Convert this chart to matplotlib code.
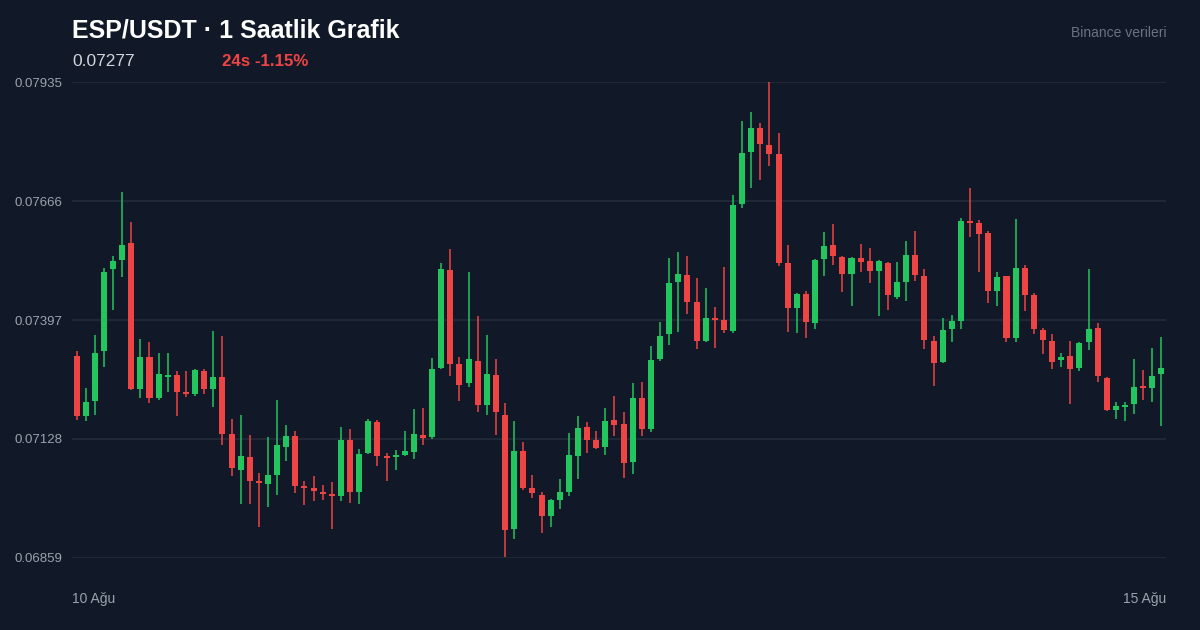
import matplotlib
matplotlib.use("Agg")
import matplotlib.pyplot as plt
import numpy as np

# hourly candles, ESP/USDT
opens = [0.07316, 0.07180, 0.07214, 0.07327, 0.07512, 0.07533, 0.07571, 0.07241, 0.07313, 0.07221,
         0.07268, 0.07273, 0.07234, 0.07230, 0.07282, 0.07241, 0.07268, 0.07139, 0.07058, 0.07087,
         0.07033, 0.07026, 0.07046, 0.07110, 0.07135, 0.07022, 0.07017, 0.07008, 0.07001, 0.06999,
         0.07126, 0.07008, 0.07096, 0.07166, 0.07089, 0.07087, 0.07092, 0.07098, 0.07137, 0.07132,
         0.07288, 0.07510, 0.07297, 0.07254, 0.07304, 0.07205, 0.07273, 0.07182, 0.06924, 0.07101,
         0.07017, 0.07001, 0.06954, 0.06990, 0.07008, 0.07089, 0.07155, 0.07126, 0.07110, 0.07171,
         0.07162, 0.07076, 0.07221, 0.07150, 0.07309, 0.07365, 0.07483, 0.07499, 0.07438, 0.07349,
         0.07401, 0.07397, 0.07372, 0.07659, 0.07777, 0.07831, 0.07793, 0.07772, 0.07526, 0.07424,
         0.07456, 0.07390, 0.07535, 0.07567, 0.07539, 0.07501, 0.07537, 0.07530, 0.07508, 0.07526,
         0.07449, 0.07483, 0.07544, 0.07496, 0.07349, 0.07302, 0.07377, 0.07395, 0.07621, 0.07616,
         0.07594, 0.07462, 0.07496, 0.07356, 0.07514, 0.07453, 0.07374, 0.07349, 0.07306, 0.07316,
         0.07288, 0.07347, 0.07379, 0.07266, 0.07193, 0.07200, 0.07207, 0.07248, 0.07243, 0.07275]
highs = [0.07327, 0.07243, 0.07363, 0.07514, 0.07542, 0.07686, 0.07618, 0.07354, 0.07347, 0.07322,
         0.07322, 0.07282, 0.07282, 0.07286, 0.07286, 0.07372, 0.07361, 0.07173, 0.07182, 0.07137,
         0.07051, 0.07132, 0.07216, 0.07160, 0.07146, 0.07033, 0.07044, 0.07024, 0.07031, 0.07155,
         0.07150, 0.07105, 0.07173, 0.07171, 0.07096, 0.07103, 0.07146, 0.07196, 0.07198, 0.07311,
         0.07526, 0.07557, 0.07313, 0.07505, 0.07406, 0.07363, 0.07309, 0.07209, 0.07169, 0.07121,
         0.07046, 0.07008, 0.06992, 0.07037, 0.07141, 0.07180, 0.07166, 0.07146, 0.07198, 0.07225,
         0.07189, 0.07254, 0.07257, 0.07338, 0.07392, 0.07537, 0.07551, 0.07542, 0.07492, 0.07469,
         0.07426, 0.07517, 0.07680, 0.07847, 0.07867, 0.07842, 0.07935, 0.07820, 0.07567, 0.07458,
         0.07462, 0.07535, 0.07596, 0.07614, 0.07542, 0.07539, 0.07569, 0.07560, 0.07533, 0.07528,
         0.07528, 0.07576, 0.07598, 0.07512, 0.07361, 0.07401, 0.07408, 0.07628, 0.07695, 0.07623,
         0.07598, 0.07505, 0.07497, 0.07625, 0.07521, 0.07458, 0.07379, 0.07365, 0.07322, 0.07349,
         0.07347, 0.07512, 0.07390, 0.07268, 0.07211, 0.07211, 0.07309, 0.07284, 0.07334, 0.07358]
lows = [0.07171, 0.07169, 0.07182, 0.07291, 0.07419, 0.07494, 0.07239, 0.07221, 0.07209, 0.07216,
        0.07234, 0.07180, 0.07223, 0.07225, 0.07230, 0.07200, 0.07114, 0.07044, 0.06981, 0.06981,
        0.06929, 0.06974, 0.07001, 0.07078, 0.07006, 0.06979, 0.06988, 0.06990, 0.06924, 0.06988,
        0.06983, 0.06981, 0.07094, 0.07067, 0.07033, 0.07058, 0.07090, 0.07083, 0.07114, 0.07128,
        0.07286, 0.07270, 0.07214, 0.07245, 0.07189, 0.07182, 0.07137, 0.06861, 0.06902, 0.07013,
        0.06994, 0.06915, 0.06929, 0.06970, 0.06999, 0.07037, 0.07096, 0.07105, 0.07092, 0.07135,
        0.07040, 0.07049, 0.07135, 0.07144, 0.07304, 0.07340, 0.07370, 0.07410, 0.07331, 0.07347,
        0.07334, 0.07368, 0.07368, 0.07650, 0.07695, 0.07713, 0.07745, 0.07519, 0.07370, 0.07368,
        0.07356, 0.07377, 0.07496, 0.07521, 0.07460, 0.07429, 0.07505, 0.07480, 0.07406, 0.07419,
        0.07444, 0.07440, 0.07485, 0.07331, 0.07248, 0.07300, 0.07347, 0.07377, 0.07585, 0.07505,
        0.07435, 0.07429, 0.07347, 0.07347, 0.07417, 0.07365, 0.07320, 0.07286, 0.07291, 0.07207,
        0.07282, 0.07329, 0.07257, 0.07191, 0.07173, 0.07169, 0.07184, 0.07216, 0.07211, 0.07157]
closes = [0.07180, 0.07211, 0.07322, 0.07505, 0.07530, 0.07567, 0.07241, 0.07313, 0.07221, 0.07275,
          0.07273, 0.07234, 0.07230, 0.07284, 0.07241, 0.07268, 0.07139, 0.07062, 0.07089, 0.07033,
          0.07028, 0.07046, 0.07114, 0.07135, 0.07022, 0.07017, 0.07010, 0.07003, 0.06999, 0.07126,
          0.07008, 0.07094, 0.07169, 0.07089, 0.07085, 0.07092, 0.07101, 0.07139, 0.07130, 0.07286,
          0.07512, 0.07297, 0.07250, 0.07309, 0.07205, 0.07275, 0.07189, 0.06922, 0.07101, 0.07017,
          0.07006, 0.06954, 0.06990, 0.07008, 0.07092, 0.07153, 0.07126, 0.07108, 0.07169, 0.07160,
          0.07074, 0.07221, 0.07150, 0.07306, 0.07361, 0.07480, 0.07501, 0.07438, 0.07349, 0.07401,
          0.07397, 0.07374, 0.07657, 0.07774, 0.07831, 0.07795, 0.07772, 0.07526, 0.07424, 0.07456,
          0.07392, 0.07533, 0.07564, 0.07542, 0.07501, 0.07537, 0.07528, 0.07508, 0.07530, 0.07453,
          0.07483, 0.07544, 0.07499, 0.07352, 0.07300, 0.07374, 0.07395, 0.07621, 0.07616, 0.07591,
          0.07462, 0.07494, 0.07356, 0.07514, 0.07453, 0.07377, 0.07352, 0.07302, 0.07313, 0.07286,
          0.07345, 0.07377, 0.07270, 0.07193, 0.07202, 0.07205, 0.07245, 0.07243, 0.07270, 0.07288]

y_ticks = [0.06859, 0.07128, 0.07397, 0.07666, 0.07935]
title = "ESP/USDT · 1 Saatlik Grafik"
last_price = "0.07277"
change_24h = "24s -1.15%"
date_labels = ["10 Ağu", "15 Ağu"]

BG = "#111827"
UP = "#22c55e"
DOWN = "#ef4444"
GRID = "#232c3b"
MUTED = "#9ca3af"

plt.rcParams["font.family"] = ["Liberation Sans", "DejaVu Sans"]

fig = plt.figure(figsize=(12, 6.3), dpi=100, facecolor=BG)
ax = fig.add_axes([0.06, 0.1143, 0.9117, 0.7555])
ax.set_facecolor(BG)

o = np.array(opens)
h = np.array(highs)
l = np.array(lows)
c = np.array(closes)
x = np.arange(len(o))
up = c >= o
cols = np.where(up, UP, DOWN)

ax.vlines(x, l, h, colors=cols, linewidth=1.1, zorder=2)
bottom = np.minimum(o, c)
height = np.maximum(np.abs(c - o), 0.00004)
ax.bar(x, height, bottom=bottom, width=0.66, color=cols, linewidth=0, zorder=3)

ax.set_xlim(-0.5, len(o) - 0.5)
ax.set_ylim(y_ticks[0], y_ticks[-1])
ax.set_yticks(y_ticks)
ax.set_yticklabels([f"{v:.5f}" for v in y_ticks])
ax.tick_params(axis="y", length=0, pad=7, labelcolor=MUTED, labelsize=9.5)
ax.set_xticks([])
ax.grid(axis="y", color=GRID, linewidth=1.2, zorder=0)
for s in ax.spines.values():
    s.set_visible(False)

fig.text(0.06, 0.952, title, color="white", fontsize=18, fontweight="bold", va="center")
fig.text(0.06, 0.903, last_price, color="#d1d5db", fontsize=12.5, va="center")
fig.text(0.185, 0.903, change_24h, color=DOWN, fontsize=12.2, fontweight="bold", va="center")
fig.text(0.972, 0.947, "Binance verileri", color="#6b7280", fontsize=10, ha="right", va="center")
fig.text(0.06, 0.049, date_labels[0], color=MUTED, fontsize=10, ha="left", va="center")
fig.text(0.972, 0.049, date_labels[1], color=MUTED, fontsize=10, ha="right", va="center")

fig.savefig("out.png", dpi=100, facecolor=BG)
